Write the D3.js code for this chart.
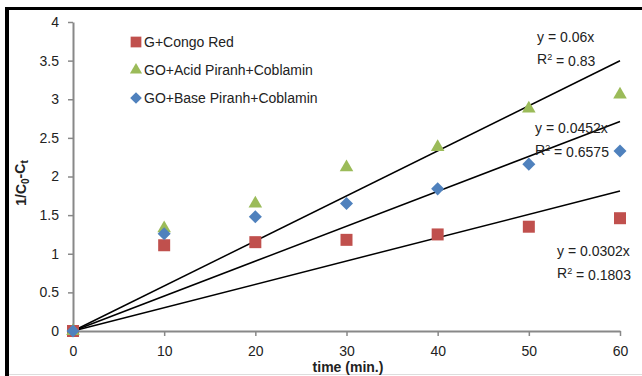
<!DOCTYPE html>
<html>
<head>
<meta charset="utf-8">
<script src="https://cdn.jsdelivr.net/npm/d3@7"></script>
<style>
  body { margin: 0; background: #fff; }
  text { font-family: "Liberation Sans", Arial, sans-serif; fill: #222; }
</style>
</head>
<body>
<div id="chart"></div>
<script>
// data
const times = [0, 10, 20, 30, 40, 50, 60];
const congoRed = [0, 1.11, 1.15, 1.18, 1.25, 1.35, 1.46];
const acidPiranh = [0, 1.33, 1.65, 2.12, 2.38, 2.88, 3.06];
const basePiranh = [0, 1.26, 1.48, 1.65, 1.84, 2.16, 2.33];
const seriesNames = ["G+Congo Red", "GO+Acid Piranh+Coblamin", "GO+Base Piranh+Coblamin"];
const trendSlopes = [0.0302, 0.0583, 0.0452];
const trendLabels = [
  ["y = 0.0302x", "0.1803"],
  ["y = 0.06x", "0.83"],
  ["y = 0.0452x", "0.6575"]
];
const xTicks = [0, 10, 20, 30, 40, 50, 60];
const yTicks = [0, 0.5, 1, 1.5, 2, 2.5, 3, 3.5, 4];

const svgWidth = 642, svgHeight = 376;
const marginLeft = 73, marginRight = 22, marginTop = 22, marginBottom = 45;
const width = svgWidth - marginLeft - marginRight;
const height = svgHeight - marginTop - marginBottom;

const colors = ["#C0504D", "#9BBB59", "#4F81BD"];
const shapes = [d3.symbolSquare, d3.symbolTriangle, d3.symbolSquare];
const sizes = [144, 80, 85];
const rotations = [0, 0, 45];

const svg = d3.select("#chart").append("svg")
  .attr("width", svgWidth).attr("height", svgHeight);

// frame
svg.append("line").attr("x1", 7).attr("x2", 7).attr("y1", 7).attr("y2", svgHeight)
  .attr("stroke", "#000").attr("stroke-width", 4);
svg.append("line").attr("x1", 5).attr("x2", svgWidth).attr("y1", 8.5).attr("y2", 8.5)
  .attr("stroke", "#000").attr("stroke-width", 3);
svg.append("line").attr("x1", 9).attr("x2", svgWidth).attr("y1", 374.5).attr("y2", 374.5)
  .attr("stroke", "#ddd").attr("stroke-width", 1);

const xScale = d3.scaleLinear().domain([0, 60]).range([0, width]);
const yScale = d3.scaleLinear().domain([0, 4]).range([height, 0]);

const chart = svg.append("g").attr("transform", `translate(${marginLeft},${marginTop})`);

// axes
const xAxis = chart.append("g").attr("transform", `translate(0,${height})`)
  .call(d3.axisBottom(xScale).tickValues(xTicks).tickSize(5).tickSizeOuter(0).tickPadding(10));
const yAxis = chart.append("g")
  .call(d3.axisLeft(yScale).tickValues(yTicks).tickSize(5).tickSizeOuter(0).tickPadding(9)
    .tickFormat(d3.format("")));
[xAxis, yAxis].forEach((g) => {
  g.select(".domain").attr("stroke", "#888").attr("stroke-width", 2);
  g.selectAll(".tick line").attr("stroke", "#888").attr("stroke-width", 1.5);
  g.selectAll(".tick text").style("font-size", "14px").attr("fill", "#222");
});

// trend lines
chart.append("g").selectAll("line")
  .data(trendSlopes)
  .join("line")
  .attr("x1", xScale(0)).attr("y1", yScale(0))
  .attr("x2", xScale(60)).attr("y2", (d) => yScale(d * 60))
  .attr("stroke", "#000").attr("stroke-width", 1.5);

// points
const allSeries = [congoRed, acidPiranh, basePiranh];
allSeries.forEach((vals, i) => {
  chart.append("g").selectAll("path")
    .data(vals)
    .join("path")
    .attr("transform", (d, j) =>
      `translate(${xScale(times[j])},${yScale(d)}) rotate(${rotations[i]})`)
    .attr("d", d3.symbol().type(shapes[i]).size(sizes[i]))
    .attr("fill", colors[i]);
});

// legend
const legend = svg.append("g").attr("transform", "translate(136,42)");
seriesNames.forEach((name, i) => {
  const row = legend.append("g").attr("transform", `translate(0,${i * 28})`);
  row.append("path")
    .attr("transform", `rotate(${rotations[i]})`)
    .attr("d", d3.symbol().type(shapes[i]).size(sizes[i] * 0.8))
    .attr("fill", colors[i]);
  row.append("text").attr("x", 8).attr("dy", "0.35em").style("font-size", "14px").text(name);
});

// trend labels
const labelPos = [[557, 251], [537, 37], [535, 128]];
trendLabels.forEach((lab, i) => {
  const t = svg.append("text").attr("x", labelPos[i][0]).attr("y", labelPos[i][1])
    .attr("dy", "0.35em").style("font-size", "14px");
  t.text(lab[0]);
  const r = svg.append("text").attr("x", labelPos[i][0]).attr("y", labelPos[i][1] + 22)
    .attr("dy", "0.35em").style("font-size", "14px");
  r.append("tspan").text("R");
  r.append("tspan").attr("dy", "-0.4em").style("font-size", "9px").text("2");
  r.append("tspan").attr("dy", "0.4em").text(" = " + lab[1]);
});

// axis titles
svg.append("text").attr("x", 348).attr("y", 367).attr("dy", "0.35em")
  .attr("text-anchor", "middle").style("font-size", "14px").style("font-weight", "bold")
  .text("time (min.)");
const yt = svg.append("text").attr("transform", "translate(21,183) rotate(-90)")
  .attr("text-anchor", "middle").attr("dy", "0.35em")
  .style("font-size", "14px").style("font-weight", "bold");
yt.append("tspan").text("1/C");
yt.append("tspan").attr("dy", "0.3em").style("font-size", "10px").text("0");
yt.append("tspan").attr("dy", "-0.3em").text("-C");
yt.append("tspan").attr("dy", "0.3em").style("font-size", "10px").text("t");
</script>
</body>
</html>
